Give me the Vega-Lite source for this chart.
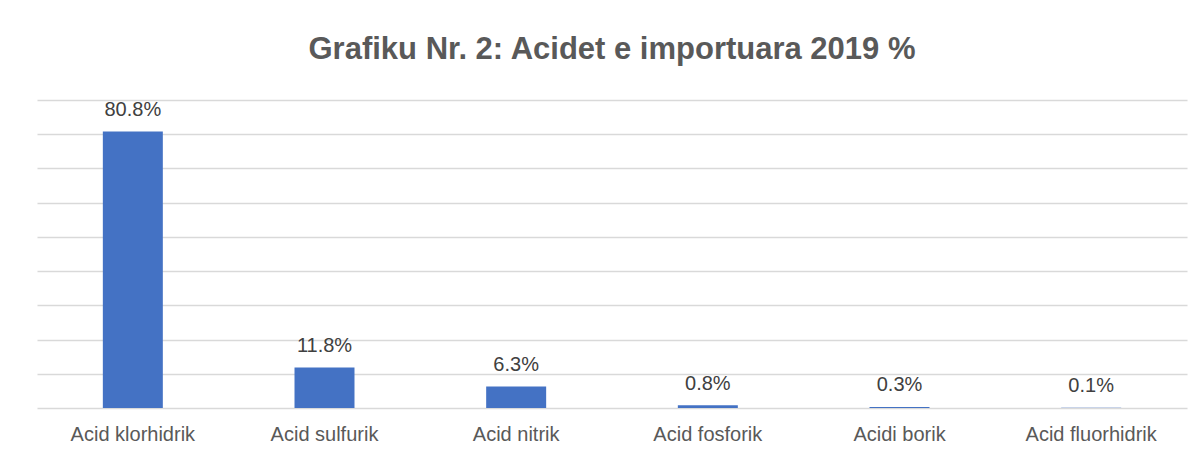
{
  "$schema": "https://vega.github.io/schema/vega-lite/v6.json",
  "width": 1150,
  "height": 308,
  "autosize": {"type": "none"},
  "padding": {"left": 37, "top": 100, "right": 16, "bottom": 46},
  "background": "white",
  "title": {
    "text": "Grafiku Nr. 2: Acidet e importuara 2019 %",
    "anchor": "middle",
    "font": "Liberation Sans",
    "fontSize": 31,
    "fontWeight": "bold",
    "color": "#595959",
    "offset": 34
  },
  "data": {
    "values": [
      {"acid": "Acid klorhidrik", "pct": 80.8, "label": "80.8%"},
      {"acid": "Acid sulfurik", "pct": 11.8, "label": "11.8%"},
      {"acid": "Acid nitrik", "pct": 6.3, "label": "6.3%"},
      {"acid": "Acid fosforik", "pct": 0.8, "label": "0.8%"},
      {"acid": "Acidi borik", "pct": 0.3, "label": "0.3%"},
      {"acid": "Acid fluorhidrik", "pct": 0.1, "label": "0.1%"}
    ]
  },
  "encoding": {
    "x": {
      "field": "acid",
      "type": "nominal",
      "sort": null,
      "title": null,
      "scale": {"paddingInner": 0.687, "paddingOuter": 0.3435},
      "axis": {
        "labelAngle": 0,
        "labelFont": "Liberation Sans",
        "labelFontSize": 20,
        "labelColor": "#595959",
        "labelBaseline": "alphabetic",
        "labelPadding": 32,
        "ticks": false,
        "domain": false,
        "grid": false
      }
    },
    "y": {
      "field": "pct",
      "type": "quantitative",
      "title": null,
      "scale": {"domain": [0, 90], "nice": false},
      "axis": {
        "values": [0, 10, 20, 30, 40, 50, 60, 70, 80, 90],
        "labels": false,
        "ticks": false,
        "domain": false,
        "grid": true,
        "gridColor": "#D9D9D9",
        "gridWidth": 1.3
      }
    }
  },
  "layer": [
    {"mark": {"type": "bar", "color": "#4472C4"}},
    {
      "mark": {
        "type": "text",
        "font": "Liberation Sans",
        "fontSize": 20,
        "color": "#404040",
        "baseline": "alphabetic",
        "dy": -15.5
      },
      "encoding": {
        "text": {"field": "label", "type": "nominal"}
      }
    }
  ],
  "config": {"view": {"stroke": null}}
}
